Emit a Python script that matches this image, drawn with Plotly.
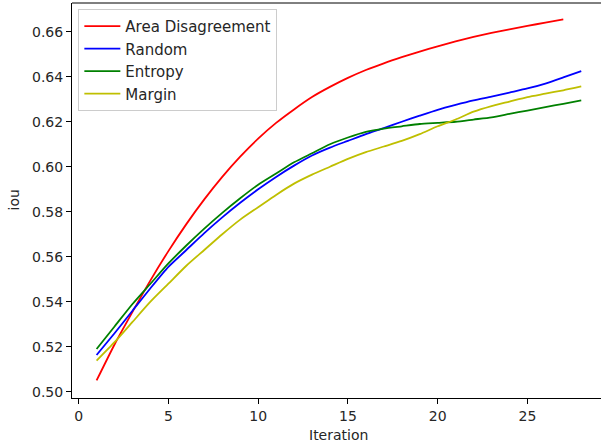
import plotly.graph_objects as go

iterations = list(range(1, 29))
iter_area = list(range(1, 28))

area_disagreement = [0.505, 0.521, 0.5355, 0.5495, 0.5625, 0.5745, 0.5855, 0.5955, 0.6045, 0.6125,
                     0.6195, 0.6255, 0.631, 0.6355, 0.6395, 0.643, 0.646, 0.6487, 0.6512, 0.6535,
                     0.6557, 0.6577, 0.6595, 0.6611, 0.6626, 0.6641, 0.6655]
random_ = [0.5163, 0.526, 0.536, 0.546, 0.5555, 0.563, 0.5705, 0.5775, 0.584, 0.590,
           0.5955, 0.6005, 0.605, 0.6085, 0.6115, 0.6145, 0.6172, 0.620, 0.6227, 0.6253,
           0.6275, 0.6295, 0.6312, 0.633, 0.6348, 0.637, 0.6397, 0.6425]
entropy = [0.519, 0.529, 0.539, 0.548, 0.557, 0.565, 0.5725, 0.5795, 0.586, 0.592,
           0.597, 0.602, 0.606, 0.610, 0.613, 0.6155, 0.617, 0.618, 0.619, 0.6195,
           0.620, 0.621, 0.622, 0.6235, 0.625, 0.6265, 0.628, 0.6295]
margin = [0.5138, 0.522, 0.531, 0.540, 0.548, 0.556, 0.563, 0.570, 0.5765, 0.582,
          0.5875, 0.5925, 0.5965, 0.600, 0.6035, 0.6065, 0.609, 0.6115, 0.6145, 0.618,
          0.621, 0.6245, 0.627, 0.629, 0.631, 0.6325, 0.634, 0.6357]

x_ticks = [0, 5, 10, 15, 20, 25]
y_ticks = [0.50, 0.52, 0.54, 0.56, 0.58, 0.60, 0.62, 0.64, 0.66]

FONT = "DejaVu Sans"
FS = 14

fig = go.Figure()
series = [
    (iter_area, area_disagreement, "Area Disagreement", "#ff0000"),
    (iterations, random_, "Random", "#0000ff"),
    (iterations, entropy, "Entropy", "#008000"),
    (iterations, margin, "Margin", "#bfbf00"),
]
for xs, ys, name, color in series:
    fig.add_trace(go.Scatter(x=xs, y=ys, mode="lines", name=name,
                             line=dict(color=color, width=1.8, shape="spline", smoothing=0.6)))

fig.update_layout(
    width=602, height=444,
    margin=dict(l=72, r=1, t=3, b=46, autoexpand=False),
    paper_bgcolor="white", plot_bgcolor="white",
    font=dict(family=FONT, size=FS, color="#262626"),
    showlegend=True,
    legend=dict(x=0.012, y=0.985, xanchor="left", yanchor="top",
                bgcolor="rgba(255,255,255,0.8)", bordercolor="#cccccc", borderwidth=1,
                font=dict(family=FONT, size=FS + 1, color="#262626"),
                tracegroupgap=0, itemwidth=36),
    xaxis=dict(range=[-0.37, 29.1], tickvals=x_ticks, ticktext=[str(v) for v in x_ticks],
               showgrid=False, zeroline=False, showline=True, linecolor="black", linewidth=1,
               ticks="outside", ticklen=5, tickcolor="black", automargin=False),
    yaxis=dict(range=[0.4972, 0.6728], tickvals=y_ticks, ticktext=[f"{v:.2f}" for v in y_ticks],
               showgrid=False, zeroline=False, showline=True, linecolor="black", linewidth=1,
               ticks="outside", ticklen=5, tickcolor="black", automargin=False),
    shapes=[dict(type="line", xref="paper", yref="paper", x0=0, x1=1, y0=1, y1=1,
                 line=dict(color="black", width=1))],
    annotations=[
        dict(text="Iteration", xref="paper", yref="paper", x=0.5035, y=0, yshift=-37,
             xanchor="center", yanchor="middle", showarrow=False, font=dict(size=FS)),
        dict(text="iou", xref="paper", yref="paper", x=0, xshift=-59, y=0.5,
             xanchor="center", yanchor="middle", textangle=-90, showarrow=False,
             font=dict(size=FS)),
    ],
)

fig.write_html("out.html", config={"displayModeBar": False})

# remove the browser's default body margin so the figure sits at the page origin
with open("out.html", "r", encoding="utf-8") as f:
    html = f.read()
html = html.replace("<body>", '<body style="margin:0;padding:0;overflow:hidden">', 1)
with open("out.html", "w", encoding="utf-8") as f:
    f.write(html)
